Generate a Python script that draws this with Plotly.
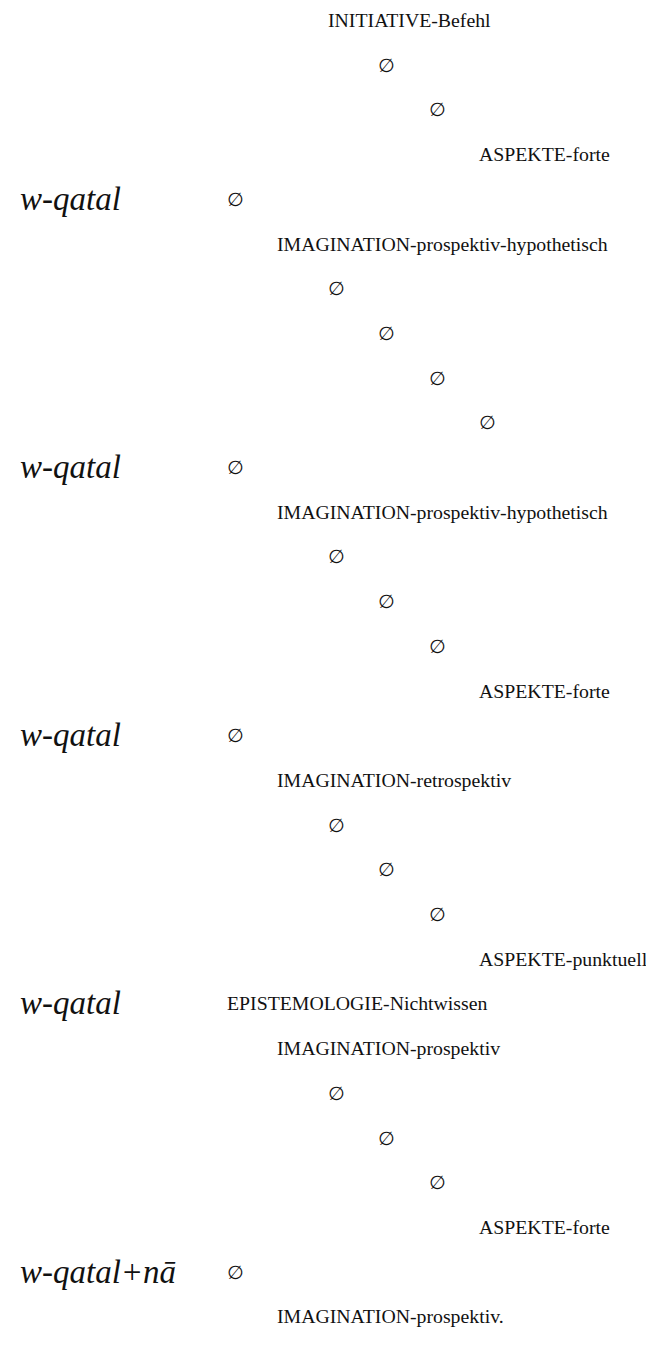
import plotly.graph_objects as go

# verb forms, one per block (row index where they appear)
verb_rows = [4, 10, 16, 22, 28]
verb_labels = ["w-qatal", "w-qatal", "w-qatal", "w-qatal", "w-qatal+nā"]

# tree nodes: row index, depth of indentation, label
node_rows = list(range(30))
node_depths = [2, 3, 4, 5, 0, 1, 2, 3, 4, 5,
               0, 1, 2, 3, 4, 5, 0, 1, 2, 3,
               4, 5, 0, 1, 2, 3, 4, 5, 0, 1]
node_labels = [
    "INITIATIVE-Befehl", "∅", "∅", "ASPEKTE-forte",
    "∅", "IMAGINATION-prospektiv-hypothetisch", "∅", "∅", "∅", "∅",
    "∅", "IMAGINATION-prospektiv-hypothetisch", "∅", "∅", "∅", "ASPEKTE-forte",
    "∅", "IMAGINATION-retrospektiv", "∅", "∅", "∅", "ASPEKTE-punktuell",
    "EPISTEMOLOGIE-Nichtwissen", "IMAGINATION-prospektiv", "∅", "∅", "∅", "ASPEKTE-forte",
    "∅", "IMAGINATION-prospektiv.",
]

# x offset (px) of each indentation depth
DEPTH_X = [218, 268, 319, 369, 420, 470]
VERB_X = 10
W, H = 654, 1345
ROW_PX = 44.7
TOP_PX = 12

fig = go.Figure()
fig.add_trace(go.Scatter(x=[0, W], y=[0, 0], mode="markers",
                         marker=dict(opacity=0), hoverinfo="skip", showlegend=False))

annotations = []
for r, lab in zip(verb_rows, verb_labels):
    annotations.append(dict(
        x=VERB_X, y=r, text=f"<i>{lab}</i>", xanchor="left", yanchor="middle",
        showarrow=False,
        font=dict(family="Liberation Serif, Times New Roman, serif", size=33, color="#111111"),
    ))
for r, d, lab in zip(node_rows, node_depths, node_labels):
    is_empty = lab == "∅"
    annotations.append(dict(
        x=DEPTH_X[d], y=r, text=lab, xanchor="left", yanchor="middle",
        showarrow=False, borderpad=0,
        font=dict(family="DejaVu Sans" if is_empty else "Liberation Serif",
                  size=19 if is_empty else 19.8, color="#111111"),
    ))

fig.update_layout(
    width=W, height=H,
    margin=dict(l=0, r=0, t=0, b=0),
    paper_bgcolor="white", plot_bgcolor="white",
    annotations=annotations,
    xaxis=dict(range=[0, W], visible=False, fixedrange=True),
    yaxis=dict(range=[(H - TOP_PX) / ROW_PX, -TOP_PX / ROW_PX], visible=False, fixedrange=True),
)

fig.write_html("out.html")
